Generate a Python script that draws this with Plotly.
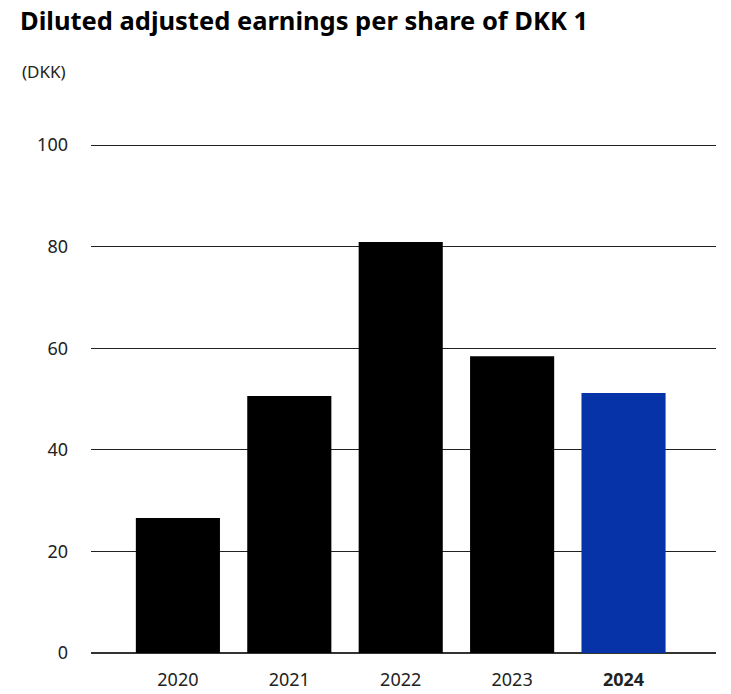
import plotly.graph_objects as go

# Diluted adjusted earnings per share (DKK)
years = ["2020", "2021", "2022", "2023", "2024"]
eps = [26.6, 50.6, 80.9, 58.4, 51.2]
tick_labels = ["2020", "2021", "2022", "2023", "<b>2024</b>"]
bar_colors = ["#000000", "#000000", "#000000", "#000000", "#0633a7"]

W, H = 731, 694
L, R, T, B = 91, 15, 143, 41
plot_w = W - L - R
plot_h = H - T - B
y_max = 100.4

font_family = "Noto Sans"

fig = go.Figure(
    go.Bar(
        x=years,
        y=eps,
        marker=dict(color=bar_colors, line=dict(width=0)),
        width=0.755,
        hoverinfo="x+y",
    )
)

fig.update_layout(
    width=W,
    height=H,
    margin=dict(l=L, r=R, t=T, b=B, pad=0, autoexpand=False),
    plot_bgcolor="white",
    paper_bgcolor="white",
    showlegend=False,
    title=dict(
        text="<b>Diluted adjusted earnings per share of DKK 1</b>",
        x=20 / W,
        xref="container",
        xanchor="left",
        y=1 - 21 / H,
        yref="container",
        yanchor="middle",
        font=dict(family=font_family, size=25.5, color="#000000"),
    ),
    annotations=[
        dict(
            text="(DKK)",
            xref="paper",
            yref="paper",
            x=(20 - L) / plot_w,
            y=(H - B - 71) / plot_h,
            xanchor="left",
            yanchor="middle",
            showarrow=False,
            font=dict(family=font_family, size=17, color="#222222"),
        )
    ],
)

fig.update_xaxes(
    type="category",
    categoryorder="array",
    categoryarray=years,
    tickvals=years,
    ticktext=tick_labels,
    range=[-0.78, 4.83],
    showgrid=False,
    showline=False,
    zeroline=False,
    ticks="",
    automargin=False,
    ticklabelstandoff=14,
    tickfont=dict(family=font_family, size=18, color="#222222"),
)

fig.update_yaxes(
    range=[0, y_max],
    tickvals=[0, 20, 40, 60, 80, 100],
    showgrid=True,
    gridcolor="#222222",
    gridwidth=1.3,
    zeroline=True,
    zerolinecolor="#333333",
    zerolinewidth=1.6,
    showline=False,
    ticks="",
    automargin=False,
    ticklabelstandoff=22,
    tickfont=dict(family=font_family, size=18, color="#222222"),
)

fig.write_html("out.html")
